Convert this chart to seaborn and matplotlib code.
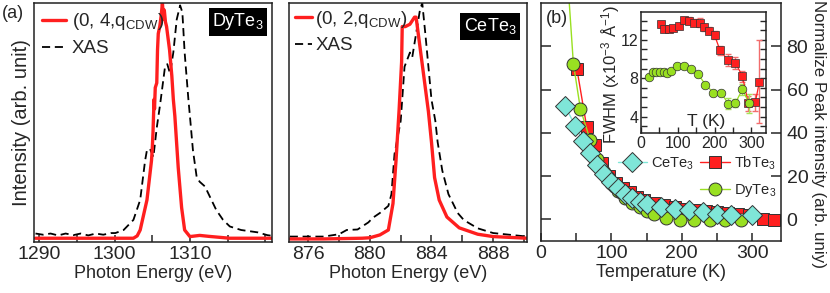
import numpy as np
import pandas as pd
import matplotlib
matplotlib.use("Agg")
import matplotlib.pyplot as plt
import seaborn as sns
from matplotlib.lines import Line2D
from matplotlib.ticker import MultipleLocator, FixedLocator
from matplotlib.transforms import blended_transform_factory

# ---------------- data: panel (a) DyTe3 ----------------
dy_rixs_E = [1289.5, 1296.0, 1302.5, 1303.0, 1303.4, 1304.3, 1304.9, 1305.0, 1305.1, 1305.24, 1305.3,
             1305.4, 1305.6, 1305.7, 1305.8, 1306.0, 1306.2, 1306.35, 1306.5, 1306.6, 1306.75, 1306.9,
             1307.3, 1307.6, 1307.8, 1308.0, 1308.45, 1308.9, 1309.3, 1310.0, 1311.3, 1312.5, 1315.3, 1321.0]
dy_rixs_I = [0.0, 0.0, 0.0, 0.01, 0.035, 0.163, 0.33, 0.38, 0.45, 0.59, 0.55,
             0.64, 0.66, 0.80, 0.87, 0.90, 0.95, 1.0, 0.93, 0.97, 0.92, 0.90,
             0.80, 0.69, 0.59, 0.52, 0.30, 0.13, 0.035, 0.007, 0.012, 0.008, 0.0, 0.0]
dy_xas_E = [1289.5, 1290.5, 1291.5, 1292.5, 1293.5, 1294.5, 1295.5, 1296.5, 1297.5, 1298.5, 1299.5,
            1300.1, 1301.2, 1302.5, 1303.4, 1304.05, 1304.3, 1304.7, 1305.15, 1305.6, 1306.05, 1306.7,
            1307.0, 1307.36, 1307.8, 1308.25, 1308.7, 1309.0, 1309.3, 1309.8, 1310.0, 1310.4, 1310.9,
            1311.3, 1312.0, 1312.6, 1313.5, 1314.4, 1315.3, 1316.8, 1319.0, 1320.3, 1321.0]
dy_xas_I = [0.02, 0.015, 0.02, 0.012, 0.02, 0.013, 0.02, 0.012, 0.02, 0.015, 0.022,
            0.022, 0.035, 0.078, 0.163, 0.33, 0.375, 0.38, 0.345, 0.47, 0.57, 0.73,
            0.74, 0.70, 0.79, 0.93, 0.99, 0.96, 0.79, 0.59, 0.52, 0.375, 0.26,
            0.24, 0.22, 0.18, 0.12, 0.078, 0.05, 0.035, 0.025, 0.013, 0.01]
dy_E_ticks = [1290, 1300, 1310]

# ---------------- data: panel (a) CeTe3 ----------------
ce_rixs_E = [874.8, 877.0, 879.5, 880.0, 880.65, 881.2, 881.5, 881.7, 881.9, 882.06, 882.1, 882.3, 882.6,
             882.9, 883.0, 883.4, 883.8, 884.0, 884.2, 884.5, 885.0, 885.8, 887.0, 888.0, 890.2]
ce_rixs_I = [0.0, 0.0, 0.003, 0.005, 0.017, 0.038, 0.15, 0.335, 0.55, 0.75, 0.90, 0.90, 0.91,
             0.94, 0.94, 0.74, 0.54, 0.41, 0.26, 0.165, 0.093, 0.047, 0.02, 0.01, 0.003]
ce_xas_E = [874.8, 877.0, 878.0, 878.5, 879.2, 879.9, 880.2, 880.65, 881.2, 881.4, 881.6, 882.0, 882.25,
            882.6, 882.75, 883.0, 883.25, 883.4, 883.6, 883.8, 884.0, 884.25, 884.4, 884.7, 885.1,
            885.7, 886.1, 887.0, 888.0, 890.2]
ce_xas_I = [0.01, 0.01, 0.02, 0.038, 0.04, 0.07, 0.09, 0.11, 0.14, 0.19, 0.36, 0.50, 0.73,
            0.79, 0.77, 0.87, 0.97, 1.0, 0.87, 0.73, 0.59, 0.50, 0.41, 0.29, 0.19,
            0.11, 0.08, 0.045, 0.025, 0.01]

# ---------------- data: panel (b) ----------------
ce_T = [34, 49, 60, 70, 80, 90, 100, 110, 120, 130, 140, 150, 170, 190, 210, 230, 250, 270, 300]
ce_I = [52.5, 43, 36, 30.5, 25, 21, 17.5, 14.5, 11.5, 9.7, 8.2, 7.3, 5.8, 5.0, 4.2, 3.2, 2.3, 1.8, 2.2]
tb_T = [51, 65, 77, 87, 97, 107, 117, 127, 137, 147, 160, 175, 190, 205, 220, 235, 250, 265, 280, 295, 315, 331]
tb_I = [69.6, 42.6, 34.2, 26, 20, 17, 14.5, 12.5, 10.5, 9, 7.5, 6.5, 5.5, 5, 4.5, 4, 3.5, 3, 2.5, 2, 0, -0.3]
dyb_T = [36, 46, 56, 70, 80, 90, 100, 110, 120, 130, 140, 150, 160, 178, 197, 218, 240, 262, 284]
dyb_I = [120, 72, 51, 36.5, 28, 22, 17, 13, 10, 7.5, 5.5, 4, 2.5, 0.5, -0.3, -0.5, -0.5, -0.5, -0.5]

# ---------------- data: inset FWHM ----------------
tb_fw_T = [54, 63, 75, 86, 102, 118, 131, 145, 161, 172, 186, 200, 215, 236, 257, 276, 292, 311, 322]
tb_fw = [13.67, 13.1, 13.1, 13.2, 13.46, 14.1, 14.0, 13.8, 13.8, 13.3, 12.97, 12.5, 10.9, 9.9, 9.6, 8.2, 5.4, 5.5, 7.65]
tb_fw_err = [0.3, 0.3, 0.3, 0.3, 0.3, 0.3, 0.4, 0.4, 0.5, 0.4, 0.4, 0.4, 0.5, 0.6, 0.6, 0.6, 0.8, 0.9, 4.35]
dy_fw_T = [23, 32, 42, 52, 62, 72, 82, 97, 117, 135, 155, 175, 197, 218, 237, 257, 276, 294]
dy_fw = [8.1, 8.6, 8.65, 8.7, 8.7, 8.5, 8.8, 9.3, 9.3, 8.95, 8.45, 7.35, 6.5, 6.5, 5.35, 5.45, 6.85, 5.4]
dy_fw_err = [0.15, 0.15, 0.15, 0.15, 0.15, 0.15, 0.15, 0.15, 0.15, 0.15, 0.15, 0.15, 0.15, 0.15, 0.6, 0.4, 0.6, 1.0]
inset_T_ticks = [0, 100, 200, 300]

# ---------------- style ----------------
sns.set_theme(style="ticks")
plt.rcParams['font.family'] = ['Liberation Sans', 'DejaVu Sans']
plt.rcParams['mathtext.fontset'] = 'custom'
plt.rcParams['mathtext.rm'] = 'Liberation Sans'
plt.rcParams['mathtext.it'] = 'Liberation Sans:italic'
plt.rcParams['mathtext.bf'] = 'Liberation Sans:bold'
plt.rcParams['axes.linewidth'] = 1.1
plt.rcParams['axes.edgecolor'] = '#222222'

RED = '#ff1f1f'
CYAN = '#7fe6d8'
GREEN = '#99e021'
EDGE = '#333333'

fig = plt.figure(figsize=(8.3, 2.93), dpi=100)


def px_axes(l, t, r, b):
    return fig.add_axes([l / 830, 1 - b / 293, (r - l) / 830, (b - t) / 293])


ax1 = px_axes(34, 3, 272, 242)
ax2 = px_axes(289, 3, 527, 242)
ax3 = px_axes(541, 3, 781, 241)
axi = px_axes(641, 12, 766, 133)

TICK_FS = 14
LAB_FS = 13
dash = (0, (4.5, 2.6))

# ---- panel (a) left ----
sns.lineplot(x=dy_xas_E, y=dy_xas_I, ax=ax1, color='black', lw=1.3, linestyle=dash, sort=False)
sns.lineplot(x=dy_rixs_E, y=dy_rixs_I, ax=ax1, color=RED, lw=2.4, sort=False)
ax1.set_xlim(1289.3, 1320.9)
ax1.set_ylim(-0.016, 1.0)
ax1.xaxis.set_major_locator(FixedLocator(dy_E_ticks))
ax1.xaxis.set_minor_locator(MultipleLocator(5))
ax1.set_yticks([])
ax1.set_xlabel('Photon Energy (eV)', fontsize=LAB_FS, labelpad=1)
ax1.set_ylabel('Intensity (arb. unit)', fontsize=14.5, labelpad=2)
h1 = [Line2D([], [], color=RED, lw=2.4), Line2D([], [], color='black', lw=1.3, linestyle=dash)]
ax1.legend(h1, ['(0, 4,q$_{\\mathrm{CDW}}$)', 'XAS'], loc='upper left', frameon=False,
           fontsize=13.5, handlelength=1.25, handletextpad=0.3, borderaxespad=0.25, labelspacing=0.4,
           borderpad=0.2)
ax1.text(0.965, 0.965, 'DyTe$_3$', transform=ax1.transAxes, ha='right', va='top', color='white',
         fontsize=13, bbox=dict(facecolor='black', edgecolor='none', pad=2.5))

# ---- panel (a) middle ----
sns.lineplot(x=ce_xas_E, y=ce_xas_I, ax=ax2, color='black', lw=1.3, linestyle=dash, sort=False)
sns.lineplot(x=ce_rixs_E, y=ce_rixs_I, ax=ax2, color=RED, lw=2.4, sort=False)
ax2.set_xlim(874.75, 890.2)
ax2.set_ylim(-0.013, 1.0)
ax2.xaxis.set_major_locator(MultipleLocator(4))
ax2.xaxis.set_minor_locator(MultipleLocator(2))
ax2.set_yticks([])
ax2.set_xlabel('Photon Energy (eV)', fontsize=LAB_FS, labelpad=1)
ax2.set_ylabel('')
h2 = [Line2D([], [], color=RED, lw=2.4), Line2D([], [], color='black', lw=1.3, linestyle=dash)]
ax2.legend(h2, ['(0, 2,q$_{\\mathrm{CDW}}$)', 'XAS'], loc='upper left', frameon=False,
           fontsize=13.5, handlelength=0.9, handletextpad=0.2, borderaxespad=0.1, labelspacing=0.4,
           borderpad=0.2)
ax2.text(0.955, 0.945, 'CeTe$_3$', transform=ax2.transAxes, ha='right', va='top', color='white',
         fontsize=13, bbox=dict(facecolor='black', edgecolor='none', pad=2.5))

for ax in (ax1, ax2):
    ax.tick_params(axis='x', which='both', direction='in', length=5, width=1.1, labelsize=TICK_FS,
                   pad=3, top=False, bottom=True)
    ax.tick_params(axis='y', left=False, right=False)

fig.text(2 / 830, 1 - 14 / 293, '(a)', fontsize=13, va='center', ha='left')

# ---- panel (b) ----
sns.lineplot(x=tb_T, y=tb_I, ax=ax3, color=RED, lw=1.0, marker='s', markersize=9.3,
             markerfacecolor=RED, markeredgecolor=EDGE, markeredgewidth=0.7, sort=False)
sns.lineplot(x=dyb_T, y=dyb_I, ax=ax3, color=GREEN, lw=1.0, marker='o', markersize=9.3,
             markerfacecolor=GREEN, markeredgecolor=EDGE, markeredgewidth=0.7, sort=False)
sns.lineplot(x=ce_T, y=ce_I, ax=ax3, color=CYAN, lw=1.0, marker='D', markersize=9.8,
             markerfacecolor=CYAN, markeredgecolor=EDGE, markeredgewidth=0.7, sort=False)
ax3.set_xlim(0, 341)
ax3.set_ylim(-10, 100)
ax3.xaxis.set_major_locator(MultipleLocator(100))
ax3.xaxis.set_minor_locator(MultipleLocator(50))
ax3.set_yticks([0, 20, 40, 60, 80])
ax3.tick_params(axis='x', which='both', direction='in', length=6, width=1.1, labelsize=TICK_FS, pad=3)
ax3.tick_params(axis='y', which='both', direction='in', length=7, width=1.1, labelsize=TICK_FS,
                left=True, right=True, labelleft=False, labelright=True, pad=4)
ax3.set_xlabel('Temperature (K)', fontsize=LAB_FS, labelpad=1)
ax3.set_ylabel('')
fig.text(818 / 830, 1 - 134 / 293, 'Normalize Peak intensity (arb. uniy)', rotation=270,
         fontsize=12.2, ha='center', va='center')
ax3.text(0.02, 0.97, '(b)', transform=ax3.transAxes, fontsize=13, ha='left', va='top')

hb = [Line2D([], [], color=CYAN, lw=1.0, marker='D', markersize=9.8, markerfacecolor=CYAN,
             markeredgecolor=EDGE, markeredgewidth=0.7),
      Line2D([], [], color='none', lw=0),
      Line2D([], [], color=RED, lw=1.0, marker='s', markersize=9.3, markerfacecolor=RED,
             markeredgecolor=EDGE, markeredgewidth=0.7),
      Line2D([], [], color=GREEN, lw=1.0, marker='o', markersize=9.3, markerfacecolor=GREEN,
             markeredgecolor=EDGE, markeredgewidth=0.7)]
ax3.legend(hb, ['CeTe$_3$', '', 'TbTe$_3$', 'DyTe$_3$'], ncol=2, loc='upper left',
           bbox_to_anchor=(0.29, 0.395), frameon=False, fontsize=10.5, handlelength=2.0,
           handletextpad=0.3, columnspacing=0.4, labelspacing=0.7, borderpad=0)

# ---- inset ----
axi.set_facecolor('none')
axi.errorbar(tb_fw_T, tb_fw, yerr=tb_fw_err, fmt='none', ecolor='#f26d6d', elinewidth=1.0, capsize=2.5,
             capthick=1.0)
axi.errorbar(dy_fw_T, dy_fw, yerr=dy_fw_err, fmt='none', ecolor='#a6e35a', elinewidth=1.0, capsize=2.5,
             capthick=1.0)
sns.lineplot(x=tb_fw_T, y=tb_fw, ax=axi, color=RED, lw=0.9, marker='s', markersize=5.8,
             markerfacecolor=RED, markeredgecolor=EDGE, markeredgewidth=0.5, sort=False)
sns.lineplot(x=dy_fw_T, y=dy_fw, ax=axi, color=GREEN, lw=0.9, marker='o', markersize=6.2,
             markerfacecolor=GREEN, markeredgecolor=EDGE, markeredgewidth=0.5, sort=False)
axi.set_xlim(0, 340)
axi.set_ylim(2.3, 14.9)
axi.set_xticks(inset_T_ticks)
axi.xaxis.set_minor_locator(MultipleLocator(50))
axi.set_yticks([4, 8, 12])
axi.yaxis.set_minor_locator(MultipleLocator(1))
axi.tick_params(axis='both', which='both', direction='in', length=4, width=1.0, labelsize=11.5, pad=2,
                left=True, right=True, bottom=True, labelleft=True)
axi.tick_params(axis='x', labelbottom=False)
trans = blended_transform_factory(axi.transData, axi.transAxes)
for t in inset_T_ticks:
    axi.text(t, -0.025, str(t), transform=trans, ha='center', va='top', fontsize=11.5, clip_on=False,
             zorder=10)
axi.set_xlabel('')
axi.set_ylabel('')
fig.text(611 / 830, 1 - 75 / 293, 'FWHM (x10$^{-3}$ $\\mathrm{\\AA}^{-1}$)', rotation=90,
         fontsize=12, ha='center', va='center')
axi.text(0.52, 0.03, 'T (K)', transform=axi.transAxes, fontsize=12.5, ha='center', va='bottom')

fig.savefig('out.png', dpi=100)
